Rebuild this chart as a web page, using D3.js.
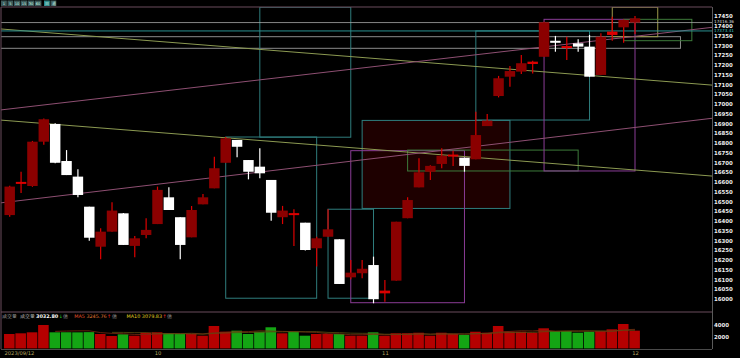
<!DOCTYPE html>
<html>
<head>
<meta charset="utf-8">
<script src="https://cdn.jsdelivr.net/npm/d3@7"></script>
<style>
  body { margin: 0; background: #000; overflow: hidden; }
  svg { display: block; }
  text { font-family: "DejaVu Sans", sans-serif; }
</style>
</head>
<body>
<div id="chart"></div>
<script>
// 1: DATA (daily TAIEX-style candles, 2023/09/12 - 2023/12/01)
const dates = [
  "2023/09/12","2023/09/13","2023/09/14","2023/09/15","2023/09/18","2023/09/19","2023/09/20","2023/09/21","2023/09/22",
  "2023/09/25","2023/09/26","2023/09/27","2023/09/28",
  "2023/10/02","2023/10/03","2023/10/04","2023/10/05","2023/10/06","2023/10/11","2023/10/12","2023/10/13",
  "2023/10/16","2023/10/17","2023/10/18","2023/10/19","2023/10/20","2023/10/23","2023/10/24","2023/10/25",
  "2023/10/26","2023/10/27","2023/10/30","2023/10/31",
  "2023/11/01","2023/11/02","2023/11/03","2023/11/06","2023/11/07","2023/11/08","2023/11/09","2023/11/10",
  "2023/11/13","2023/11/14","2023/11/15","2023/11/16","2023/11/17","2023/11/20","2023/11/21","2023/11/22",
  "2023/11/23","2023/11/24","2023/11/27","2023/11/28","2023/11/29","2023/11/30",
  "2023/12/01"
];
const open  = [16430,16592,16579,16806,16897,16707,16627,16473,16268,16345,16439,16272,16328,16384,16521,16419,16316,16485,16567,16698,16815,16712,16678,16610,16419,16435,16391,16260,16319,16306,16111,16132,16174,16029,16094,16414,16572,16652,16692,16735,16724,16716,16886,17040,17139,17165,17204,17241,17323,17290,17310,17293,17148,17353,17392,17416];
const high  = [16580,16652,16810,16925,16900,16763,16665,16473,16362,16496,16440,16323,16414,16576,16572,16419,16477,16538,16729,16830,16815,16712,16772,16610,16477,16460,16391,16319,16460,16306,16200,16200,16217,16097,16396,16521,16721,16685,16772,16760,16724,16960,16948,17143,17194,17250,17221,17421,17348,17344,17331,17353,17361,17446,17432,17450];
const low   = [16422,16543,16575,16790,16695,16635,16521,16299,16204,16345,16277,16214,16311,16384,16456,16204,16316,16485,16567,16698,16726,16613,16619,16401,16384,16272,16248,16166,16319,16077,16101,16106,15978,15986,16094,16414,16572,16610,16670,16682,16652,16716,16886,17033,17088,17153,17156,17241,17267,17225,17267,17139,17148,17323,17313,17358];
const close = [16576,16600,16806,16921,16698,16635,16533,16314,16345,16453,16277,16311,16354,16559,16456,16277,16456,16521,16670,16823,16780,16652,16644,16442,16453,16440,16251,16311,16357,16077,16135,16155,15999,16043,16396,16507,16649,16682,16734,16740,16682,16840,16914,17131,17168,17208,17216,17418,17313,17296,17293,17139,17344,17370,17430,17438];
const volume = [2461,2580,2751,4000,2751,2760,2745,2780,2460,2120,2410,2170,2680,2750,2580,2460,2460,2170,3830,2850,3030,2460,2850,3610,2580,2850,2170,2460,2460,2460,2170,2170,2750,2170,2580,2580,2680,2170,2680,2460,2290,2850,2680,3830,2850,2850,2680,3435,2970,2970,2680,2850,2970,3260,4170,3032.80];

const priceTicks = d3.range(16000, 17451, 50);
const volumeTicks = [2000, 4000];
const lastPrice = 17416.36;
const markPrice = 17373.41;
const legendValues = { vol: "3032.80", ma5: "3245.76", ma10: "3079.83" };

// drawn annotations: boxes [fromIndex, toIndex, priceTop, priceBottom]
const boxes = [
  [-2, 59, 17344, 17284.5],
  [22, 30, 17495, 16829],
  [19, 27, 16830, 16004],
  [28, 32, 16460, 16004],
  [31, 44, 16915, 16464],
  [30, 40, 16760, 15981],
  [35, 50, 16763, 16656],
  [41, 51, 17373.4, 16917],
  [47, 55, 17433, 16656],
  [53, 57, 17494.6, 17344],
  [54, 60, 17433, 17323.5]
];
const boxColors = ["#8a8a8a", "#2f7d7d", "#2f7d7d", "#2f7d7d", "#2f7d7d", "#8a3c96", "#3d7a3a", "#2f7d7d", "#8a3c96", "#9c9a48", "#3d7a3a"];
const boxFills  = ["none", "none", "none", "none", "#1e0000", "none", "none", "none", "none", "none", "none"];

// trend lines [index, price] -> [index, price], extended across the chart
const trendLines = [
  [[0, 17380], [55, 17127]],
  [[0, 16913], [55, 16661]],
  [[0, 16974], [55, 17346]],
  [[0, 16498], [55, 16879]]
];
const trendColors = ["#8c9a52", "#8c9a52", "#8e4f72", "#8e4f72"];

// 2: SIZES
const W = 740, H = 358;
const frame = { left: 1, right: 712, top: 7, split: 312, bottom: 349 };

const svg = d3.select("#chart").append("svg")
  .attr("width", W)
  .attr("height", H);

svg.append("rect").attr("width", W).attr("height", H).attr("fill", "#000");

// 3: SCALES
const x = d3.scaleLinear().domain([0, dates.length - 1]).range([9.7, 635]);
const step = x(1) - x(0);
const y = d3.scaleLinear().domain([16000, 17450]).range([299, 16]);
const yv = d3.scaleLinear().domain([0, 4000]).range([348.4, 325]);

svg.append("clipPath").attr("id", "priceClip")
  .append("rect")
  .attr("x", frame.left).attr("y", frame.top)
  .attr("width", frame.right - frame.left).attr("height", frame.split - frame.top);

const price = svg.append("g").attr("clip-path", "url(#priceClip)");

// 4: ANNOTATIONS
price.selectAll(".box")
  .data(boxes)
  .enter().append("rect")
  .attr("class", "box")
  .attr("x", d => x(d[0]))
  .attr("y", d => y(d[2]))
  .attr("width", d => x(d[1]) - x(d[0]))
  .attr("height", d => y(d[3]) - y(d[2]))
  .attr("fill", (d, i) => boxFills[i])
  .attr("stroke", (d, i) => boxColors[i])
  .attr("stroke-width", 1);

// trend lines extended to the frame edges
const xs = [frame.left, frame.right];
price.selectAll(".trend")
  .data(trendLines)
  .enter().append("line")
  .attr("class", "trend")
  .each(function(d, i) {
    const x1 = x(d[0][0]), y1 = y(d[0][1]);
    const x2 = x(d[1][0]), y2 = y(d[1][1]);
    const k = (y2 - y1) / (x2 - x1);
    d3.select(this)
      .attr("x1", xs[0]).attr("y1", y1 + k * (xs[0] - x1))
      .attr("x2", xs[1]).attr("y2", y1 + k * (xs[1] - x1))
      .attr("stroke", trendColors[i])
      .attr("stroke-width", 1);
  });

// horizontal price lines
price.append("line")
  .attr("x1", frame.left).attr("x2", frame.right)
  .attr("y1", y(lastPrice)).attr("y2", y(lastPrice))
  .attr("stroke", "#a8a8a8").attr("stroke-width", 0.8);
price.append("line")
  .attr("x1", frame.left).attr("x2", frame.right)
  .attr("y1", y(markPrice)).attr("y2", y(markPrice))
  .attr("stroke", "#2a9090").attr("stroke-width", 1);

// 5: CANDLES
const idx = d3.range(dates.length);
const upBody = "#8b0000", upWick = "#dd0000", downColor = "#ffffff";
const bodyW = step * 0.92;

const candle = price.selectAll(".candle")
  .data(idx)
  .enter().append("g")
  .attr("class", "candle");

candle.append("line")
  .attr("x1", i => x(i)).attr("x2", i => x(i))
  .attr("y1", i => y(high[i])).attr("y2", i => y(low[i]))
  .attr("stroke", i => close[i] >= open[i] ? upWick : downColor)
  .attr("stroke-width", 1.2);

candle.append("rect")
  .attr("x", i => x(i) - bodyW / 2)
  .attr("width", bodyW)
  .attr("y", i => y(Math.max(open[i], close[i])))
  .attr("height", i => Math.max(2, Math.abs(y(open[i]) - y(close[i]))))
  .attr("fill", i => {
    if (close[i] < open[i]) return downColor;
    return Math.abs(y(open[i]) - y(close[i])) < 4 ? upWick : upBody;
  });

// 6: VOLUME
const volUp = i => i === 0 ? close[0] >= open[0] : close[i] >= close[i - 1];
svg.selectAll(".vol")
  .data(idx)
  .enter().append("rect")
  .attr("class", "vol")
  .attr("x", i => x(i) - step / 2)
  .attr("width", step - 0.8)
  .attr("y", i => yv(volume[i]))
  .attr("height", i => yv(0) - yv(volume[i]))
  .attr("fill", i => volUp(i) ? "#b50000" : "#14a514");

const movingAvg = n => idx.filter(i => i >= n - 1)
  .map(i => ({ i, v: d3.mean(volume.slice(i - n + 1, i + 1)) }));
const maLine = d3.line().x(d => x(d.i)).y(d => yv(d.v));
svg.append("path").attr("d", maLine(movingAvg(5)))
  .attr("fill", "none").attr("stroke", "#7a2a10").attr("stroke-width", 0.8);
svg.append("path").attr("d", maLine(movingAvg(10)))
  .attr("fill", "none").attr("stroke", "#5a4a10").attr("stroke-width", 0.8);

// 7: FRAME AND AXES
const frameColor = "#6a4c5c";
svg.append("line").attr("x1", frame.left).attr("x2", frame.right)
  .attr("y1", frame.top).attr("y2", frame.top).attr("stroke", frameColor);
svg.append("line").attr("x1", frame.left).attr("x2", frame.left)
  .attr("y1", frame.top).attr("y2", frame.bottom).attr("stroke", frameColor);
svg.append("line").attr("x1", frame.left).attr("x2", frame.right)
  .attr("y1", frame.split).attr("y2", frame.split).attr("stroke", frameColor);
svg.append("line").attr("x1", frame.left).attr("x2", frame.right)
  .attr("y1", frame.bottom + 0.5).attr("y2", frame.bottom + 0.5).attr("stroke", "#4a4a4a");
svg.append("line").attr("x1", frame.right + 0.5).attr("x2", frame.right + 0.5)
  .attr("y1", frame.top).attr("y2", frame.bottom).attr("stroke", "#5a5a5a");

const yAxis = svg.append("g")
  .attr("transform", `translate(${frame.right},0)`)
  .call(d3.axisRight(y).tickValues(priceTicks).tickSize(0).tickPadding(2).tickFormat(d3.format("d")));
yAxis.select(".domain").remove();
yAxis.selectAll("text")
  .attr("fill", "#eeeeee")
  .style("font-size", "5.4px")
  .style("font-weight", "bold");

const vAxis = svg.append("g")
  .attr("transform", `translate(${frame.right},0)`)
  .call(d3.axisRight(yv).tickValues(volumeTicks).tickSize(0).tickPadding(2).tickFormat(d3.format("d")));
vAxis.select(".domain").remove();
vAxis.selectAll("text")
  .attr("fill", "#eeeeee")
  .style("font-size", "5.4px")
  .style("font-weight", "bold");

// price tags on the right
svg.append("text")
  .attr("x", frame.right + 2).attr("y", y(lastPrice)).attr("dy", "0.2em")
  .attr("fill", "#dddddd").style("font-size", "4.2px")
  .text(lastPrice.toFixed(2));
svg.append("text")
  .attr("x", frame.right + 2).attr("y", y(markPrice)).attr("dy", "0.35em")
  .attr("fill", "#3cc0c0").style("font-size", "4.2px")
  .text(markPrice.toFixed(2));

// date axis: first day, then first trading day of each month
const tickIdx = idx.filter(i => i === 0 || dates[i].slice(5, 7) !== dates[i - 1].slice(5, 7));
const xAxis = svg.append("g")
  .attr("transform", `translate(0,${frame.bottom})`)
  .call(d3.axisBottom(x).tickValues(tickIdx).tickSize(0).tickPadding(2)
    .tickFormat(i => i === 0 ? dates[i] : String(+dates[i].slice(5, 7))));
xAxis.select(".domain").remove();
xAxis.selectAll("text")
  .attr("fill", "#b8a860")
  .style("font-size", "5.2px");
xAxis.selectAll(".tick").filter(i => i === 0).select("text")
  .attr("text-anchor", "start")
  .attr("x", 4 - x(0));

// 8: VOLUME LEGEND (laid out left to right, gap after each group)
const parts = [
  { t: "成交量", c: "#9a9a9a", gap: 3 },
  { t: "成交量", c: "#b0b0b0", gap: 1 },
  { t: legendValues.vol, c: "#ffffff", b: true, gap: 0.5 },
  { t: "↓", c: "#22cc22", gap: 0.3 },
  { t: "億", c: "#9a9a9a", gap: 6 },
  { t: "MA5", c: "#e2502a", gap: 1.5 },
  { t: legendValues.ma5, c: "#e07a34", gap: 0.5 },
  { t: "↑", c: "#ff2a2a", gap: 0.3 },
  { t: "億", c: "#9a9a9a", gap: 10 },
  { t: "MA10", c: "#e0d020", gap: 1.5 },
  { t: legendValues.ma10, c: "#e0d020", gap: 0.5 },
  { t: "↑", c: "#ff2a2a", gap: 0.3 },
  { t: "億", c: "#9a9a9a", gap: 0 }
];
const legend = svg.append("g").style("font-size", "4.9px");
let lx = 2;
parts.forEach(p => {
  const t = legend.append("text")
    .attr("x", lx).attr("y", 317.8)
    .attr("fill", p.c)
    .style("font-weight", p.b ? "bold" : "normal")
    .text(p.t);
  lx += t.node().getComputedTextLength() + p.gap;
});

// toolbar buttons top-left
const buttons = ["1", "5", "10", "15", "30", "60", "日", "週"];
const btnX = [1, 7.5, 14, 21, 28, 35, 44, 50.5];
const bar = svg.append("g");
bar.selectAll("rect")
  .data(buttons)
  .enter().append("rect")
  .attr("x", (d, i) => btnX[i])
  .attr("y", 0.5)
  .attr("width", (d, i) => i === 2 || i === 3 || i === 4 || i === 5 ? 6.4 : 5.8)
  .attr("height", 5.5)
  .attr("fill", (d, i) => i === 6 ? "#2f8a8a" : "#3c5a5a");
bar.selectAll("text")
  .data(buttons)
  .enter().append("text")
  .attr("x", (d, i) => btnX[i] + 3)
  .attr("y", 4.8)
  .attr("text-anchor", "middle")
  .attr("fill", "#cfe")
  .style("font-size", "3.6px")
  .text(d => d);
</script>
</body>
</html>
